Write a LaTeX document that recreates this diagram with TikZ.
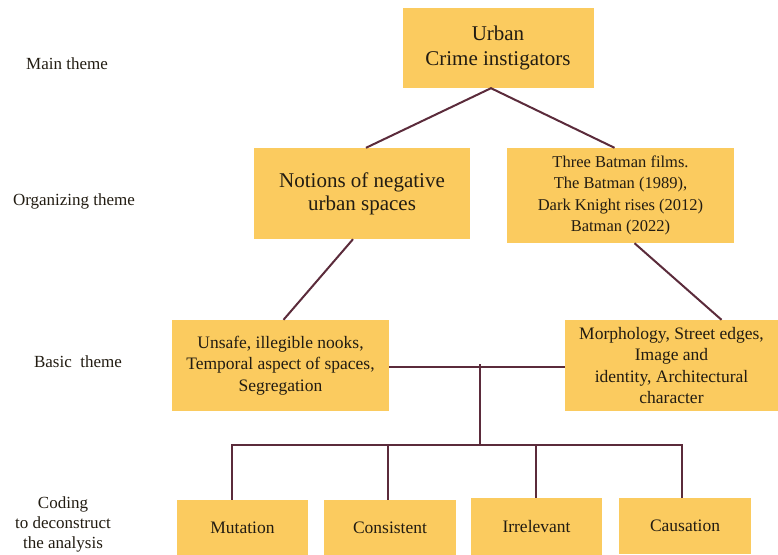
\documentclass[tikz,border=0pt]{standalone}
\usepackage{fontspec}
\setmainfont{Liberation Serif}
\usepackage{xcolor}
\usetikzlibrary{positioning}

\definecolor{boxfill}{HTML}{FBCB5F}
\definecolor{linkcol}{HTML}{5B2B3B}
\definecolor{inkcol}{HTML}{221C12}

\begin{document}
\begin{tikzpicture}[x=1pt, y=-1pt,
	theme/.style={rectangle, fill=boxfill, align=center, text=inkcol, inner sep=2pt,
		font=\fontsize{17.5}{21.5}\selectfont},
	lbl/.style={align=center, text=inkcol, font=\fontsize{17}{20}\selectfont},
	link/.style={draw=linkcol, line width=2pt}]
	\clip (0,0) rectangle (778,554);
	% levels
	\node[lbl] (lmain) at (67,64) {Main theme};
	\node[lbl] (lorg) at (74,201) {Organizing theme};
	\node[lbl] (lbasic) at (78,362) {Basic~ theme};
	\node[lbl] (lcode) at (63,524) {Coding\\to deconstruct\\the analysis};
	% main theme
	\node[theme, minimum width=191, minimum height=80, font=\fontsize{21}{25}\selectfont] (main) at (498,48) {Urban\\Crime instigators};
	% organizing themes
	\node[theme, minimum width=216, minimum height=91, font=\fontsize{21}{23}\selectfont] (orgL) at (362,193.5) {Notions of negative\\urban spaces};
	\node[theme, minimum width=227, minimum height=95, font=\fontsize{16.5}{21.5}\selectfont] (orgR) at (620.5,195.5) {Three Batman films.\\The Batman (1989),\\Dark Knight rises (2012)\\Batman (2022)};
	% basic themes
	\node[theme, minimum width=217, minimum height=91] (basicL) at (280.5,365.5) {Unsafe, illegible nooks,\\Temporal aspect of spaces,\\Segregation};
	\node[theme, minimum width=213, minimum height=91] (basicR) at (671.5,365.5) {Morphology, Street edges,\\Image and\\identity, Architectural\\character};
	% codes
	\node[theme, minimum width=131, minimum height=56] (mut) at (242.5,528) {Mutation};
	\node[theme, minimum width=132, minimum height=56] (cons) at (390,528) {Consistent};
	\node[theme, minimum width=131, minimum height=58] (irr) at (536.5,527) {Irrelevant};
	\node[theme, minimum width=132, minimum height=56] (caus) at (685,526) {Causation};
	% links
	\draw[link] ([xshift=4pt]orgL.north) -- ([xshift=-7pt]main.south) -- ([xshift=-6pt]orgR.north);
	\draw[link] ([xshift=-9pt]orgL.south) -- ([xshift=3pt]basicL.north);
	\draw[link] ([xshift=14pt]orgR.south) -- ([xshift=50pt]basicR.north);
	\draw[link] ([yshift=-1.5pt]basicL.east) -- ([yshift=-1.5pt]basicR.west);
	\coordinate (hub) at (480,364);
	\coordinate (fork) at (480,445);
	\draw[link] (hub) -- (fork);
	\draw[link] (fork) -| ([xshift=-10.5pt]mut.north);
	\draw[link] (fork) -| ([xshift=-3pt]caus.north);
	\draw[link] (fork) -| ([xshift=-2pt]cons.north);
	\draw[link] (fork) -| ([xshift=-0.5pt]irr.north);
\end{tikzpicture}
\end{document}
